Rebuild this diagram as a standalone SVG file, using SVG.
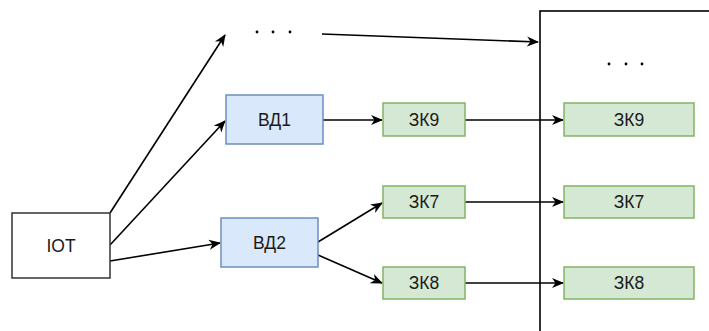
<svg xmlns="http://www.w3.org/2000/svg" width="709" height="331" viewBox="0 0 709 331">
<defs>
<style>
text{font-family:"Liberation Sans",Arial,sans-serif;font-size:17.5px;fill:#1a1a1a;text-anchor:middle;dominant-baseline:central}
.blue{fill:#dae8fc;stroke:#6c8ebf;stroke-width:1.5}
.green{fill:#d5e8d4;stroke:#82b366;stroke-width:1.5}
.plain{fill:#fff;stroke:#333;stroke-width:1.5}
.c{fill:none;stroke:#000;stroke-width:1.6;marker-end:url(#arr)}
.dot{fill:#000}
</style>
<marker id="arr" viewBox="0 0 12 12" refX="11" refY="6" markerWidth="12" markerHeight="12" markerUnits="userSpaceOnUse" orient="auto">
<path d="M0,1 L12,6 L0,11 L3.5,6 Z" fill="#000"/>
</marker>
</defs>
<rect width="709" height="331" fill="#fff"/>
<g id="group-box"><rect x="540" y="11" width="200" height="340" fill="#fff" stroke="#000" stroke-width="1.6"/></g>
<g id="connectors">
<line class="c" x1="110" y1="213" x2="225" y2="35"/>
<line class="c" x1="110" y1="245" x2="225" y2="121"/>
<line class="c" x1="110" y1="261" x2="220" y2="243"/>
<line class="c" x1="322" y1="34" x2="538" y2="42"/>
<line class="c" x1="323" y1="120" x2="382" y2="120"/>
<line class="c" x1="318" y1="242" x2="382" y2="203"/>
<line class="c" x1="318" y1="255" x2="382" y2="283"/>
<line class="c" x1="465" y1="120" x2="563" y2="120"/>
<line class="c" x1="465" y1="202" x2="563" y2="202"/>
<line class="c" x1="465" y1="283" x2="563" y2="283"/>
</g>
<g id="dots-top"><circle class="dot" cx="257" cy="32" r="1.4"/><circle class="dot" cx="273" cy="32" r="1.4"/><circle class="dot" cx="290" cy="32" r="1.4"/></g>
<g id="dots-right"><circle class="dot" cx="609" cy="64" r="1.4"/><circle class="dot" cx="626" cy="64" r="1.4"/><circle class="dot" cx="642" cy="64" r="1.4"/></g>
<g id="iot"><rect class="plain" x="12" y="213" width="98" height="65"/><text x="61" y="245.5">IOT</text></g>
<g id="vd1"><rect class="blue" x="226" y="95" width="97" height="49"/><text x="274.5" y="119.5">ВД1</text></g>
<g id="vd2"><rect class="blue" x="221" y="218" width="97" height="49"/><text x="269.5" y="242.5">ВД2</text></g>
<g id="zk9a"><rect class="green" x="383" y="103" width="82" height="33"/><text x="424" y="119.5">ЗК9</text></g>
<g id="zk7a"><rect class="green" x="383" y="186" width="82" height="32"/><text x="424" y="202">ЗК7</text></g>
<g id="zk8a"><rect class="green" x="383" y="267" width="82" height="32"/><text x="424" y="283">ЗК8</text></g>
<g id="zk9b"><rect class="green" x="564" y="103" width="130" height="33"/><text x="629" y="119.5">ЗК9</text></g>
<g id="zk7b"><rect class="green" x="564" y="186" width="130" height="32"/><text x="629" y="202">ЗК7</text></g>
<g id="zk8b"><rect class="green" x="564" y="267" width="130" height="32"/><text x="629" y="283">ЗК8</text></g>
</svg>
